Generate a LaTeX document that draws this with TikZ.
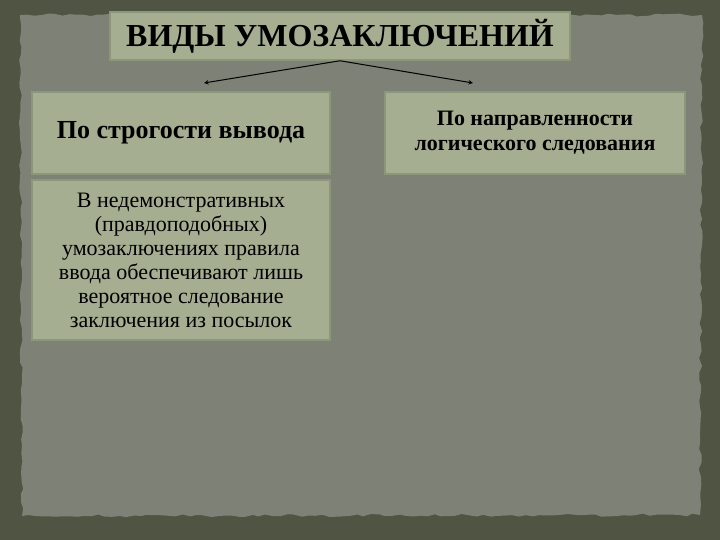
\documentclass[tikz,border=0pt]{standalone}
\usepackage{fontspec}
\setmainfont{Liberation Serif}
\usepackage{tikz}
\usetikzlibrary{decorations.pathmorphing}
\definecolor{frame}{HTML}{4F5443}
\definecolor{paper}{HTML}{7E8276}
\definecolor{boxfill}{HTML}{A5AE91}
\definecolor{boxedge}{HTML}{8C9678}

\begin{document}
\begin{tikzpicture}[x=1pt,y=-1pt]
\tikzstyle{every node}=[font=\small]
\tikzstyle{plate}=[fill=boxfill,draw=boxedge,line width=1.5pt,inner sep=0pt,align=center,text=black]
\useasboundingbox (0,0) rectangle (720,540);
\fill[frame](0,0) rectangle (720,540);
\pgfmathsetseed{7}
\fill[paper,decorate,decoration={random steps,segment length=7pt,amplitude=1.5pt}](20,15)--(702,15)--(700,515)--(22,516)--cycle;

\node[plate,minimum width=460,minimum height=48,font=\fontsize{32}{34}\selectfont\bfseries](title) at (340,36){ВИДЫ УМОЗАКЛЮЧЕНИЙ};
\node[plate,minimum width=298,minimum height=82,font=\fontsize{26}{28}\selectfont\bfseries](strict) at (181,133){По строгости вывода};
\node[plate,minimum width=298,minimum height=160,font=\fontsize{22}{24}\selectfont](plaus) at (181,260){В недемонстративных\\(правдоподобных)\\умозаключениях правила\\ввода обеспечивают лишь\\вероятное следование\\заключения из посылок};
\node[plate,minimum width=300,minimum height=82,font=\fontsize{22}{25}\selectfont\bfseries](direct) at (535,133){По направленности\\логического следования};

\coordinate (lend) at (204,83);
\coordinate (rend) at (473,83);
\draw[-stealth,line width=1pt](title.south)--(lend);
\draw[-stealth,line width=1pt](title.south)--(rend);

\end{tikzpicture}
\end{document}
